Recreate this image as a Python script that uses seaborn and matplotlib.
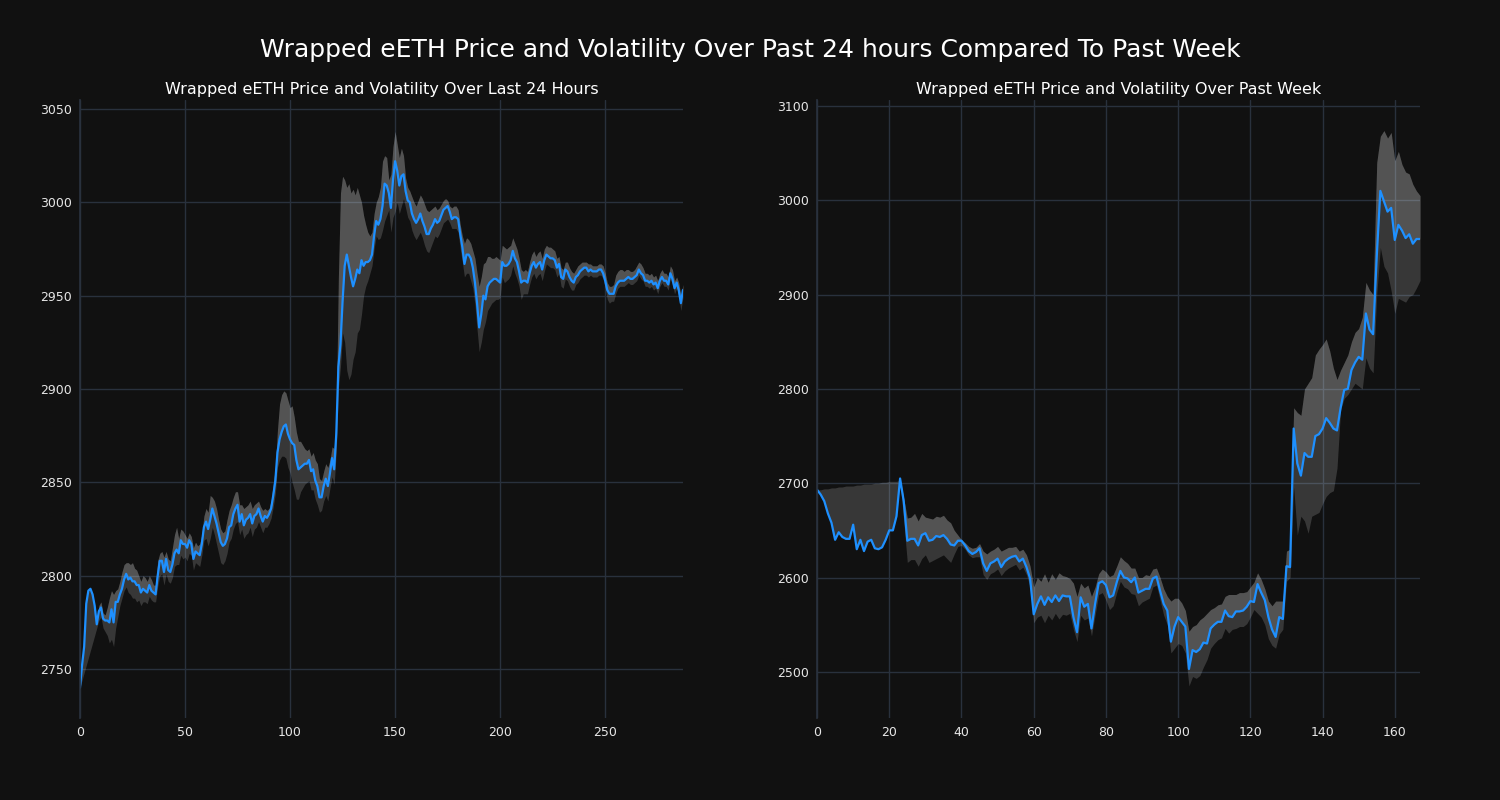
import pandas as pd
import matplotlib
matplotlib.use("Agg")
import matplotlib.pyplot as plt
import seaborn as sns

# last 24 hours (5 minute steps)
day_price = [
    2740, 2752, 2762, 2785, 2792, 2793, 2790, 2784, 2774, 2781, 2783, 2777, 2776, 2776, 2775, 2782, 2775, 2786, 2786, 2790,
    2793, 2798, 2801, 2798, 2799, 2797, 2797, 2795, 2795, 2791, 2793, 2792, 2791, 2795, 2792, 2791, 2790, 2800, 2808, 2808,
    2802, 2809, 2803, 2802, 2806, 2812, 2814, 2812, 2819, 2817, 2817, 2815, 2819, 2817, 2809, 2813, 2812, 2811, 2817, 2826,
    2829, 2825, 2830, 2836, 2832, 2828, 2823, 2818, 2816, 2817, 2820, 2826, 2827, 2833, 2836, 2838, 2829, 2833, 2827, 2830,
    2831, 2833, 2828, 2832, 2833, 2836, 2832, 2829, 2832, 2831, 2833, 2836, 2843, 2851, 2866, 2873, 2877, 2880, 2881, 2876,
    2873, 2871, 2870, 2862, 2857, 2858, 2859, 2860, 2860, 2862, 2856, 2857, 2851, 2848, 2842, 2842, 2848, 2852, 2848, 2855,
    2863, 2857, 2876, 2912, 2924, 2947, 2966, 2972, 2966, 2960, 2955, 2959, 2964, 2962, 2969, 2966, 2968, 2968, 2969, 2972,
    2982, 2990, 2988, 2991, 2998, 3010, 3009, 3005, 2997, 3012, 3022, 3017, 3009, 3014, 3015, 3006, 3001, 3000, 2994, 2991,
    2989, 2991, 2994, 2990, 2987, 2983, 2983, 2986, 2988, 2991, 2989, 2990, 2993, 2996, 2997, 2998, 2995, 2991, 2992, 2992,
    2991, 2983, 2976, 2967, 2972, 2972, 2970, 2965, 2957, 2946, 2933, 2940, 2950, 2948, 2955, 2957, 2958, 2959, 2959, 2958,
    2957, 2968, 2966, 2966, 2967, 2969, 2974, 2970, 2968, 2963, 2957, 2958, 2958, 2957, 2962, 2966, 2968, 2965, 2967, 2968,
    2964, 2969, 2972, 2971, 2970, 2970, 2969, 2965, 2967, 2960, 2959, 2964, 2963, 2960, 2958, 2957, 2960, 2961, 2963, 2964,
    2965, 2965, 2963, 2964, 2963, 2963, 2963, 2964, 2964, 2962, 2958, 2953, 2951, 2951, 2951, 2955, 2957, 2958, 2958, 2958,
    2959, 2960, 2959, 2959, 2960, 2961, 2964, 2962, 2961, 2958, 2958, 2957, 2958, 2956, 2957, 2954, 2958, 2960, 2958, 2958,
    2956, 2962, 2959, 2954, 2957, 2953, 2946, 2953,
]
day_upper = [
    2740, 2752, 2762, 2785, 2792, 2793, 2790, 2784, 2774, 2784, 2786, 2780, 2779, 2783, 2788, 2792, 2790, 2792, 2793, 2797,
    2802, 2806, 2807, 2807, 2806, 2807, 2804, 2803, 2800, 2797, 2800, 2799, 2797, 2800, 2798, 2795, 2795, 2808, 2812, 2813,
    2810, 2813, 2809, 2808, 2815, 2822, 2826, 2820, 2825, 2824, 2822, 2820, 2823, 2821, 2815, 2818, 2816, 2817, 2822, 2832,
    2836, 2834, 2843, 2842, 2840, 2836, 2830, 2825, 2823, 2824, 2830, 2835, 2838, 2842, 2845, 2845, 2838, 2838, 2836, 2837,
    2838, 2840, 2836, 2838, 2839, 2840, 2837, 2835, 2836, 2835, 2836, 2840, 2849, 2858, 2878, 2892, 2897, 2899, 2898, 2894,
    2890, 2891, 2885, 2877, 2872, 2872, 2870, 2868, 2867, 2868, 2864, 2866, 2862, 2860, 2852, 2851, 2856, 2860, 2858, 2862,
    2869, 2868, 2885, 2960, 3005, 3014, 3012, 3008, 3010, 3005, 3007, 3004, 3008, 3004, 3000, 2993, 2988, 2984, 2982, 2984,
    2994, 3000, 3003, 3008, 3022, 3025, 3024, 3012, 3015, 3030, 3038, 3031, 3024, 3029, 3025, 3013, 3008, 3006, 3003, 3000,
    2998, 3001, 3004, 3002, 2999, 2996, 2995, 2996, 2997, 2998, 2996, 2997, 2999, 3001, 3002, 3001, 2998, 2997, 2998, 2998,
    2996, 2988, 2982, 2978, 2981, 2980, 2978, 2974, 2970, 2962, 2955, 2960, 2967, 2968, 2971, 2971, 2970, 2970, 2971, 2970,
    2969, 2977, 2976, 2975, 2976, 2977, 2981, 2978, 2975, 2970, 2964, 2963, 2964, 2963, 2968, 2972, 2974, 2971, 2973, 2974,
    2970, 2975, 2977, 2976, 2976, 2975, 2974, 2970, 2971, 2965, 2964, 2968, 2968, 2965, 2963, 2962, 2964, 2966, 2967, 2968,
    2968, 2968, 2967, 2967, 2966, 2966, 2966, 2967, 2967, 2966, 2962, 2957, 2955, 2955, 2956, 2961, 2963, 2964, 2964, 2963,
    2964, 2964, 2963, 2963, 2964, 2966, 2968, 2967, 2965, 2962, 2962, 2961, 2962, 2960, 2961, 2958, 2962, 2964, 2962, 2962,
    2960, 2966, 2964, 2958, 2960, 2957, 2950, 2956,
]
day_lower = [
    2740, 2744, 2748, 2752, 2756, 2760, 2764, 2768, 2772, 2776, 2778, 2772, 2770, 2768, 2764, 2766, 2762, 2772, 2778, 2784,
    2788, 2792, 2794, 2791, 2790, 2788, 2788, 2786, 2787, 2784, 2786, 2786, 2785, 2789, 2787, 2786, 2786, 2794, 2800, 2801,
    2795, 2801, 2797, 2796, 2799, 2805, 2806, 2806, 2811, 2809, 2810, 2808, 2812, 2811, 2803, 2807, 2806, 2805, 2811, 2819,
    2820, 2816, 2820, 2826, 2822, 2817, 2812, 2807, 2806, 2808, 2812, 2818, 2820, 2825, 2828, 2829, 2822, 2825, 2820, 2822,
    2823, 2826, 2821, 2825, 2826, 2829, 2826, 2823, 2826, 2826, 2828, 2831, 2837, 2844, 2858, 2862, 2864, 2864, 2863, 2858,
    2855, 2850, 2846, 2841, 2841, 2845, 2847, 2849, 2850, 2851, 2846, 2846, 2841, 2838, 2834, 2835, 2840, 2843, 2840, 2847,
    2853, 2849, 2866, 2900, 2912, 2930, 2925, 2910, 2905, 2908, 2916, 2920, 2930, 2932, 2940, 2950, 2955, 2958, 2962, 2966,
    2975, 2982, 2980, 2981, 2985, 2990, 2993, 2996, 2984, 2992, 2995, 3000, 2994, 2998, 3002, 2997, 2992, 2990, 2985, 2982,
    2980, 2982, 2984, 2981, 2977, 2974, 2973, 2976, 2979, 2982, 2981, 2983, 2986, 2989, 2990, 2991, 2989, 2986, 2986, 2986,
    2984, 2975, 2968, 2960, 2962, 2962, 2958, 2954, 2945, 2932, 2920, 2925, 2932, 2936, 2942, 2944, 2946, 2947, 2948, 2948,
    2949, 2960, 2957, 2958, 2959, 2961, 2966, 2962, 2959, 2955, 2948, 2951, 2951, 2951, 2956, 2960, 2962, 2959, 2961, 2962,
    2958, 2963, 2967, 2966, 2965, 2965, 2964, 2960, 2962, 2955, 2954, 2959, 2958, 2955, 2953, 2953, 2956, 2957, 2959, 2960,
    2961, 2961, 2960, 2961, 2960, 2960, 2960, 2961, 2961, 2959, 2954, 2948, 2946, 2947, 2947, 2951, 2954, 2955, 2955, 2955,
    2956, 2957, 2956, 2956, 2957, 2958, 2961, 2959, 2958, 2955, 2955, 2954, 2955, 2953, 2954, 2951, 2955, 2957, 2955, 2955,
    2953, 2959, 2956, 2951, 2954, 2950, 2942, 2949,
]

# past week (hourly)
week_price = [
    2693, 2688, 2681, 2668, 2658, 2640, 2648, 2643, 2641, 2641, 2656, 2630, 2640, 2628, 2638, 2640, 2631, 2630, 2632, 2640,
    2650, 2650, 2665, 2705, 2681, 2639, 2641, 2641, 2634, 2645, 2647, 2639, 2640, 2644, 2643, 2645, 2641, 2635, 2634, 2639,
    2639, 2634, 2628, 2625, 2627, 2631, 2615, 2607, 2615, 2617, 2620, 2611, 2617, 2620, 2622, 2623, 2617, 2620, 2611, 2599,
    2561, 2572, 2580, 2571, 2579, 2574, 2581, 2575, 2581, 2580, 2580, 2558, 2542, 2579, 2569, 2572, 2546, 2572, 2594, 2596,
    2592, 2579, 2581, 2595, 2607, 2600, 2599, 2595, 2600, 2584, 2586, 2588, 2588, 2599, 2601, 2586, 2572, 2565, 2532, 2548,
    2558, 2553, 2548, 2503, 2523, 2521, 2524, 2531, 2530, 2546, 2550, 2553, 2553, 2565, 2559, 2558, 2564, 2564, 2565, 2569,
    2575, 2574, 2593, 2584, 2576, 2558, 2545, 2537, 2558, 2556, 2612, 2611, 2758, 2721, 2708, 2732, 2728, 2728, 2750, 2752,
    2758, 2769, 2764, 2758, 2756, 2780, 2799, 2800, 2820, 2828, 2834, 2831, 2880, 2863, 2858, 2940, 3010, 2999, 2988, 2992,
    2958, 2974, 2968, 2960, 2964, 2954, 2959, 2959,
]
week_upper = [
    2693, 2688, 2681, 2668, 2658, 2640, 2648, 2643, 2641, 2641, 2656, 2630, 2640, 2628, 2638, 2640, 2631, 2630, 2632, 2640,
    2650, 2650, 2665, 2705, 2684, 2663, 2664, 2668, 2660, 2668, 2664, 2663, 2662, 2665, 2664, 2666, 2661, 2658, 2650, 2645,
    2640, 2637, 2633, 2631, 2632, 2636, 2628, 2625, 2628, 2630, 2633, 2628, 2630, 2632, 2632, 2633, 2628, 2630, 2624, 2612,
    2590, 2600, 2596, 2604, 2595, 2604, 2598, 2605, 2602, 2601, 2599, 2594, 2580, 2594, 2589, 2592, 2580, 2590, 2604, 2609,
    2606, 2601, 2603, 2612, 2622, 2618, 2615, 2610, 2610, 2600, 2600, 2603, 2602, 2609, 2610, 2600, 2588, 2580, 2575, 2578,
    2578, 2573, 2565, 2543, 2548, 2550, 2555, 2558, 2562, 2566, 2568, 2571, 2572, 2580, 2582, 2582, 2582, 2584, 2584, 2585,
    2590, 2595, 2605, 2598, 2588, 2575, 2570, 2575, 2575, 2575, 2628, 2630, 2780, 2775, 2772, 2800, 2806, 2812, 2836, 2842,
    2847, 2853, 2840, 2822, 2810, 2820, 2828, 2836, 2850, 2860, 2864, 2876, 2913, 2905, 2900, 3040, 3068, 3074, 3066, 3072,
    3042, 3052, 3038, 3030, 3028, 3017, 3010, 3005,
]
week_lower = [
    2693, 2693, 2694, 2694, 2695, 2695, 2696, 2696, 2697, 2697, 2697, 2698, 2698, 2699, 2699, 2699, 2700, 2700, 2701, 2701,
    2702, 2702, 2702, 2703, 2660, 2616, 2619, 2619, 2612, 2620, 2624, 2616, 2618, 2620, 2622, 2624, 2620, 2616, 2625, 2633,
    2634, 2630, 2624, 2621, 2622, 2622, 2603, 2598, 2604, 2606, 2609, 2602, 2607, 2610, 2612, 2614, 2608, 2611, 2603, 2590,
    2552, 2558, 2560, 2552, 2560, 2555, 2562, 2556, 2561, 2560, 2562, 2545, 2532, 2560, 2555, 2557, 2538, 2560, 2582, 2584,
    2576, 2566, 2570, 2584, 2596, 2590, 2588, 2583, 2582, 2570, 2574, 2576, 2578, 2590, 2592, 2576, 2560, 2550, 2520, 2525,
    2530, 2528, 2520, 2485, 2495, 2493, 2496, 2505, 2513, 2525, 2530, 2534, 2536, 2546, 2541, 2545, 2546, 2548, 2548, 2551,
    2558, 2566, 2562, 2558, 2550, 2535, 2528, 2525, 2540, 2545, 2596, 2600, 2696, 2645, 2665, 2660, 2647, 2665, 2667, 2669,
    2678, 2686, 2690, 2692, 2716, 2778, 2790, 2794, 2800, 2806, 2803, 2800, 2833, 2822, 2817, 2900, 2950, 2930, 2923, 2904,
    2880, 2896, 2894, 2892, 2898, 2900, 2907, 2915,
]

BG = "#111111"
GRID = "#29313d"

sns.set_theme(style="darkgrid", rc={
    "figure.facecolor": BG,
    "axes.facecolor": BG,
    "axes.edgecolor": GRID,
    "grid.color": GRID,
    "text.color": "white",
    "xtick.color": "#e6e6e6",
    "ytick.color": "#e6e6e6",
    "axes.labelcolor": "white",
})
plt.rcParams["font.family"] = ["DejaVu Sans"]


def draw(ax, price, upper, lower, title, ylim):
    df = pd.DataFrame({"step": range(len(price)), "price": price,
                       "upper": upper, "lower": lower})
    # volatility band: darker part overall, lighter part above the price
    ax.fill_between(df["step"], df["lower"], df["upper"],
                    color="white", alpha=0.16, linewidth=0)
    ax.fill_between(df["step"], df["price"], df["upper"],
                    color="white", alpha=0.14, linewidth=0)
    sns.lineplot(data=df, x="step", y="price", ax=ax,
                 color="#1e90ff", linewidth=1.6)
    ax.set_xlim(0, len(price) - 1)
    ax.set_ylim(*ylim)
    ax.set_title(title, fontsize=11.5, color="white", pad=4)
    ax.set_xlabel("")
    ax.set_ylabel("")
    ax.tick_params(labelsize=9, length=0, pad=6)
    for side in ["top", "right", "bottom"]:
        ax.spines[side].set_visible(False)
    ax.spines["left"].set_color(GRID)


fig, axes = plt.subplots(1, 2, figsize=(15, 8))
fig.subplots_adjust(left=0.0533, right=0.9467, top=0.875, bottom=0.1025, wspace=0.2224)

draw(axes[0], day_price, day_upper, day_lower,
     "Wrapped eETH Price and Volatility Over Last 24 Hours", (2723.8, 3054.8))
draw(axes[1], week_price, week_upper, week_lower,
     "Wrapped eETH Price and Volatility Over Past Week", (2451, 3106.4))

fig.suptitle("Wrapped eETH Price and Volatility Over Past 24 hours Compared To Past Week",
             fontsize=18, color="white", y=0.9375, va="center")

fig.savefig("out.png", dpi=100, facecolor=BG)
